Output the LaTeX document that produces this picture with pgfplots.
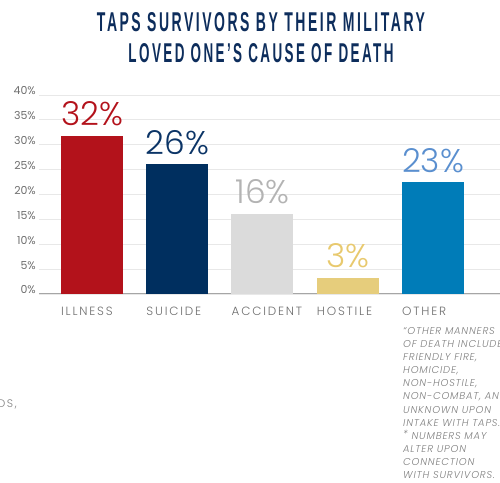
\documentclass[border=0pt]{standalone}
\usepackage{fontspec}
\setmainfont{Poppins}
\newfontfamily\poplight{Poppins Light}
\newfontfamily\capsfont[LetterSpace=15]{Poppins Light}
\newfontfamily\notefont[LetterSpace=8]{Poppins Light Italic}
\newfontfamily\titlefont[LetterSpace=18]{Liberation Sans Bold}
\usepackage{graphicx}
\usepackage{pgfplots}
\pgfplotsset{compat=1.18}

\definecolor{titleblue}{HTML}{0D2D5C}
\definecolor{illred}{HTML}{B3121B}
\definecolor{suinavy}{HTML}{002F5F}
\definecolor{suitext}{HTML}{0B3466}
\definecolor{accgray}{HTML}{DBDBDB}
\definecolor{acctext}{HTML}{B3B3B3}
\definecolor{hosgold}{HTML}{E6CD7C}
\definecolor{hostext}{HTML}{E8C96E}
\definecolor{othblue}{HTML}{007CB8}
\definecolor{othtext}{HTML}{5A8FCF}
\definecolor{gridgray}{HTML}{E8E8E8}
\definecolor{basegray}{HTML}{A6A6A6}
\definecolor{tickgray}{HTML}{6E6E6E}
\definecolor{notegray}{HTML}{808080}

\begin{document}
\begin{tikzpicture}
\useasboundingbox (0,0) rectangle (500bp,483bp);

% title
\node[text=titleblue, inner sep=0] at (261bp,460.5bp)
  {\resizebox{328bp}{19bp}{\titlefont TAPS SURVIVORS BY THEIR MILITARY}};
\node[text=titleblue, inner sep=0] at (261bp,430bp)
  {\resizebox{265bp}{19bp}{\titlefont LOVED ONE’S CAUSE OF DEATH}};

\begin{axis}[
    at={(39bp,189bp)}, anchor=south west,
    scale only axis, width=461bp, height=199bp,
    xmin=-0.6217, xmax=4.786, ymin=0, ymax=40,
    ybar, bar width=62bp,
    axis line style={draw=none},
    major tick length=0pt,
    ytick={0,5,...,40},
    yticklabels={0\%,5\%,10\%,15\%,20\%,25\%,30\%,35\%,40\%},
    ymajorgrids, grid style={draw=gridgray, line width=0.8pt},
    extra y ticks={0}, extra y tick labels={},
    extra y tick style={grid style={draw=basegray, line width=1pt}},
    xtick={0,1,2,3,4},
    xticklabels={ILLNESS,SUICIDE,ACCIDENT,HOSTILE,OTHER},
    xticklabel style={anchor=base west, inner sep=0pt, xshift=-31bp, yshift=-22bp,
        font=\capsfont\fontsize{12}{14}\selectfont, text=tickgray},
    yticklabel style={anchor=base east, inner sep=0pt, xshift=-3bp,
        font=\fontsize{11}{13}\selectfont, text=tickgray},
    nodes near coords, point meta=explicit symbolic,
    every node near coord/.append style={anchor=base, inner sep=0pt, yshift=10bp,
        font=\poplight\fontsize{33}{36}\selectfont},
    clip=false,
]
\addplot[fill=illred, draw=none, bar shift=0pt,
    every node near coord/.append style={text=illred}] coordinates {(0,31.8) [32\%]};
\addplot[fill=suinavy, draw=none, bar shift=0pt,
    every node near coord/.append style={text=suitext}] coordinates {(1,26.1) [26\%]};
\addplot[fill=accgray, draw=none, bar shift=0pt,
    every node near coord/.append style={text=acctext}] coordinates {(2,16.1) [16\%]};
\addplot[fill=hosgold, draw=none, bar shift=0pt,
    every node near coord/.append style={text=hostext}] coordinates {(3,3.3) [3\%]};
\addplot[fill=othblue, draw=none, bar shift=0pt,
    every node near coord/.append style={text=othtext}] coordinates {(4,22.5) [23\%]};
\end{axis}

% footnote beside OTHER
\foreach \t [count=\i from 0] in {“OTHER MANNERS,OF DEATH INCLUDE,{FRIENDLY FIRE,},{HOMICIDE,},
    {NON-HOSTILE,},{NON-COMBAT, AND},UNKNOWN UPON,INTAKE WITH TAPS.,
    {\raisebox{0.3ex}{*} NUMBERS MAY},ALTER UPON,CONNECTION,WITH SURVIVORS.}
  \node[anchor=base west, inner sep=0, text=notegray,
        font=\notefont\fontsize{10}{12}\selectfont] at (403bp,{148.5bp-\i*13.1bp}) {\t};

% cut-off text at the left edge
\node[anchor=base east, inner sep=0, text=notegray,
      font=\capsfont\fontsize{11}{13}\selectfont] at (17bp,75bp) {DS,};
\end{tikzpicture}
\end{document}
